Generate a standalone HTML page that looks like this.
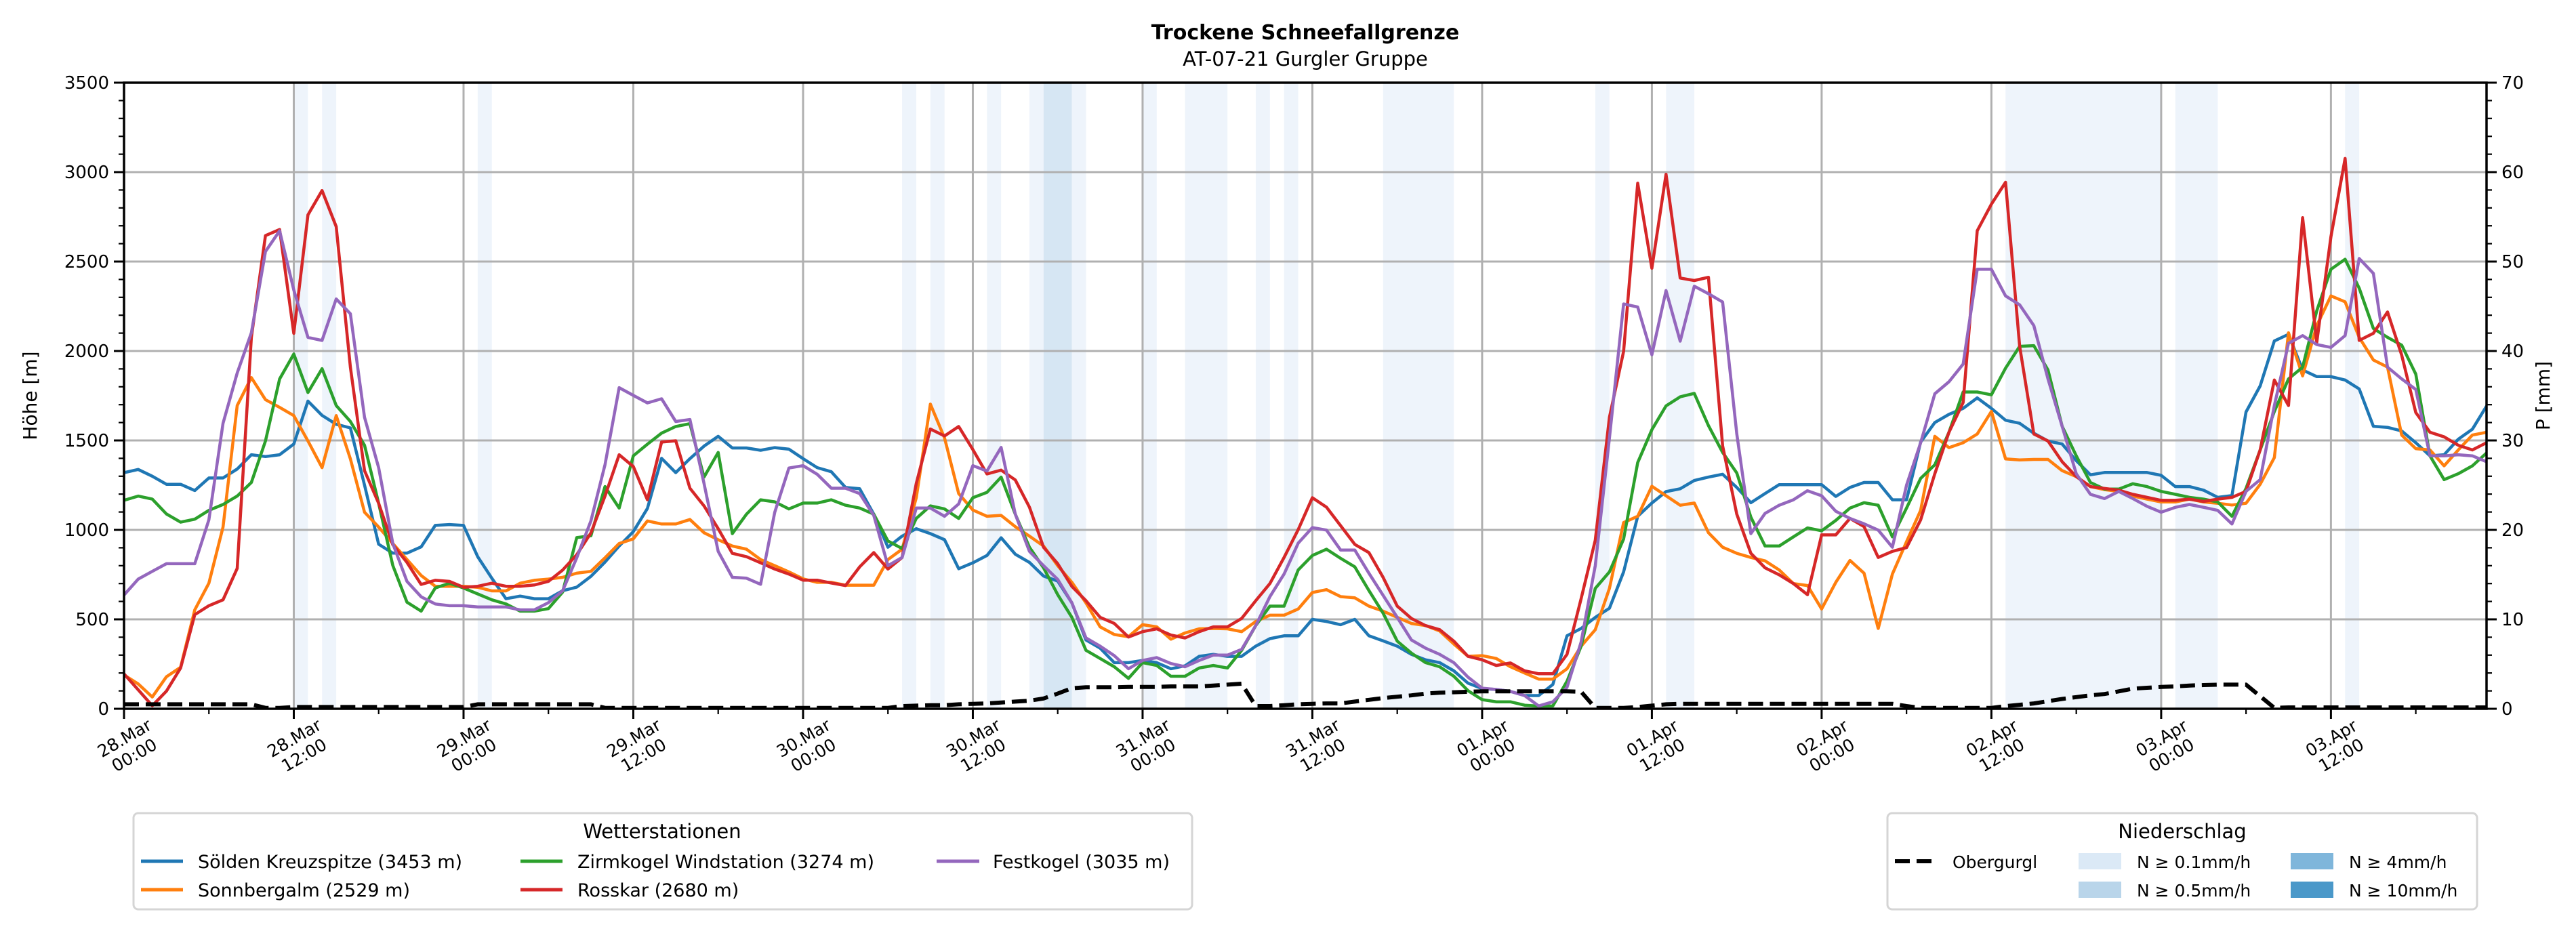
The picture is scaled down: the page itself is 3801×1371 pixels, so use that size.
<!DOCTYPE html>
<html><head><meta charset="utf-8"><title>Trockene Schneefallgrenze</title>
<style>
html,body{margin:0;padding:0;background:#fff;}
svg{display:block;font-family:"DejaVu Sans","Liberation Sans",sans-serif;}
</style></head>
<body>
<svg id="chart" xmlns="http://www.w3.org/2000/svg" width="3801" height="1371" viewBox="0 0 3801 1371">
<rect x="0" y="0" width="3801" height="1371" fill="#fff"/>
<g id="bands"></g>
<g id="grid"></g>
<g id="series"></g>
<g id="axes"></g>
<text x="1926" y="58" text-anchor="middle" font-size="30" font-weight="bold">Trockene Schneefallgrenze</text>
<text x="1926" y="97" text-anchor="middle" font-size="29">AT-07-21 Gurgler Gruppe</text>
<text transform="translate(54,584) rotate(-90)" text-anchor="middle" font-size="28">Höhe [m]</text>
<text transform="translate(3762,584) rotate(-90)" text-anchor="middle" font-size="28">P [mm]</text>

<g>
<rect x="197" y="1200" width="1562" height="142" rx="7" fill="#fff" stroke="#d5d5d5" stroke-width="3"/>
<text x="977" y="1237" text-anchor="middle" font-size="29">Wetterstationen</text>
<g><line x1="208" y1="1271" x2="270" y2="1271" stroke="#1f77b4" stroke-width="5"/><text x="292" y="1281" font-size="27">Sölden Kreuzspitze (3453 m)</text></g>
<g><line x1="208" y1="1313" x2="270" y2="1313" stroke="#ff7f0e" stroke-width="5"/><text x="292" y="1323" font-size="27">Sonnbergalm (2529 m)</text></g>
<g><line x1="768" y1="1271" x2="830" y2="1271" stroke="#2ca02c" stroke-width="5"/><text x="852" y="1281" font-size="27">Zirmkogel Windstation (3274 m)</text></g>
<g><line x1="768" y1="1313" x2="830" y2="1313" stroke="#d62728" stroke-width="5"/><text x="852" y="1323" font-size="27">Rosskar (2680 m)</text></g>
<g><line x1="1382" y1="1271" x2="1445" y2="1271" stroke="#9467bd" stroke-width="5"/><text x="1465" y="1281" font-size="27">Festkogel (3035 m)</text></g>
</g>

<g>
<rect x="2785" y="1200" width="870" height="142" rx="7" fill="#fff" stroke="#d5d5d5" stroke-width="3"/>
<text x="3220" y="1237" text-anchor="middle" font-size="29">Niederschlag</text>
<g><line x1="2796" y1="1271" x2="2856" y2="1271" stroke="#000" stroke-width="6" stroke-dasharray="22,10"/><text x="2881" y="1281" font-size="25">Obergurgl</text></g>
<g><rect x="3067" y="1259" width="63" height="24" fill="#dbe9f6"/><text x="3153" y="1281" font-size="25">N ≥ 0.1mm/h</text></g>
<g><rect x="3067" y="1301" width="63" height="24" fill="#b9d5ea"/><text x="3153" y="1323" font-size="25">N ≥ 0.5mm/h</text></g>
<g><rect x="3380" y="1259" width="63" height="24" fill="#7fb6db"/><text x="3466" y="1281" font-size="25">N ≥ 4mm/h</text></g>
<g><rect x="3380" y="1301" width="63" height="24" fill="#4a98c9"/><text x="3466" y="1323" font-size="25">N ≥ 10mm/h</text></g>
</g>
</svg>
<script>
const soelden = [1320,1338,1300,1255,1255,1220,1290,1290,1340,1420,1410,1420,1480,1720,1640,1590,1570,1250,920,870,870,905,1025,1030,1025,850,730,615,630,615,615,660,680,740,820,910,990,1120,1400,1320,
1398,1468,1523,1458,1458,1445,1460,1451,1398,1348,1325,1237,1230,1088,903,965,1007,979,945,783,816,857,956,864,818,742,714,592,385,339,258,258,270,258,224,240,293,304,293,293,350,392,408,
408,500,488,470,500,408,380,350,304,274,258,212,143,113,108,97,74,74,136,408,449,511,562,765,1076,1150,1214,1230,1276,1295,1311,1237,1152,1203,1253,1253,1253,1253,1187,1237,1265,1265,1168,1168,1491,1600,
1646,1679,1738,1679,1613,1596,1540,1497,1480,1387,1308,1321,1321,1321,1321,1305,1242,1242,1222,1182,1192,1659,1805,2056,2093,1894,1857,1857,1838,1788,1579,1573,1553,1487,1414,1420,1507,1563,1692];
const sonnbergalm = [189,139,66,179,232,553,702,1016,1695,1851,1728,1685,1639,1497,1348,1639,1397,1099,1016,924,834,745,685,685,685,679,659,659,702,718,725,735,758,768,844,924,950,1050,1033,1033,
1058,984,945,910,892,834,800,765,726,707,707,691,691,691,834,892,1180,1703,1514,1203,1111,1076,1081,1018,965,910,800,707,592,458,415,403,470,458,389,424,447,449,447,431,488,523,523,
558,650,666,627,620,574,546,511,477,465,435,362,293,297,281,235,200,166,166,224,350,442,673,1041,1076,1244,1191,1138,1150,984,903,869,846,827,776,700,689,558,707,829,758,449,753,
934,1109,1523,1460,1487,1536,1662,1397,1391,1394,1394,1331,1298,1242,1225,1215,1189,1172,1156,1156,1172,1156,1149,1139,1149,1255,1404,2102,1861,2142,2308,2275,2076,1950,1910,1530,1454,1447,1358,1447,1530,1546];
const zirmkogel = [1165,1189,1172,1089,1043,1060,1109,1142,1189,1265,1497,1844,1983,1768,1901,1695,1606,1473,1149,801,596,546,675,702,675,642,609,586,546,546,560,652,957,967,1242,1122,1414,
1479,1541,1578,1594,1295,1433,979,1088,1168,1157,1117,1150,1150,1168,1138,1122,1088,938,896,1064,1134,1117,1064,1180,1210,1295,1088,903,788,638,511,327,281,235,170,258,242,182,182,228,242,228,327,465,574,574,
776,857,892,841,793,661,535,378,311,258,235,182,101,51,39,39,20,15,16,154,350,673,765,949,1376,1560,1693,1744,1763,1583,1433,1318,1071,910,910,961,1011,995,1053,1122,1152,1138,961,
1122,1288,1364,1546,1771,1771,1755,1904,2026,2030,1894,1579,1414,1265,1228,1228,1258,1242,1215,1199,1182,1172,1156,1076,1232,1447,1662,1844,1910,2225,2457,2513,2351,2126,2076,2033,1871,1414,1281,1314,1358,1430];
const rosskar = [195,106,17,99,228,526,576,609,785,2076,2645,2679,2099,2761,2897,2695,1910,1331,1149,917,818,695,718,712,679,685,702,685,685,692,712,775,861,983,1189,1420,1354,
1168,1491,1498,1233,1134,1007,869,850,816,781,753,719,719,703,689,793,873,781,846,1260,1564,1525,1578,1449,1313,1334,1279,1127,903,811,684,604,511,477,401,431,447,412,396,431,458,458,505,604,700,846,
1002,1180,1127,1023,919,873,735,574,505,465,442,378,293,274,242,256,212,196,196,304,615,942,1629,1998,2938,2463,2988,2408,2394,2412,1470,1088,869,788,749,700,638,972,972,1064,1018,846,880,
901,1056,1314,1546,1712,2672,2821,2943,2026,1536,1497,1381,1298,1242,1232,1222,1199,1182,1165,1165,1172,1159,1172,1182,1215,1447,1838,1695,2745,2049,2639,3076,2059,2099,2218,1977,1656,1546,1520,1473,1447,1487];
const festkogel = [636,725,768,811,811,811,1056,1596,1877,2102,2556,2672,2341,2076,2059,2291,2208,1629,1348,924,712,626,586,576,576,569,569,569,553,553,593,659,844,1050,1364,1795,1752,
1710,1733,1606,1617,1260,880,735,730,696,1099,1346,1359,1311,1233,1233,1203,1081,800,846,1122,1122,1076,1145,1359,1329,1461,1088,880,800,723,592,396,350,297,224,270,286,253,235,270,300,300,332,465,627,753,
926,1013,999,887,887,758,634,511,385,339,304,258,177,115,108,97,74,16,39,120,373,800,1514,2263,2246,1979,2338,2055,2362,2320,2274,1537,979,1092,1138,1168,1219,1191,1104,1064,1034,999,903,
1250,1487,1761,1828,1927,2457,2457,2308,2258,2142,1844,1579,1314,1199,1175,1215,1175,1132,1099,1126,1142,1126,1109,1033,1215,1281,1695,2043,2086,2036,2020,2086,2517,2434,1910,1844,1785,1414,1414,1420,1414,1381];
const obergurgl = [0.5,0.5,0.5,0.5,0.5,0.5,0.5,0.5,0.5,0.5,0.1,0.1,
0.2,0.2,0.2,0.2,0.2,0.2,0.2,0.2,0.2,0.2,0.2,0.2,0.2,
0.5,0.5,0.5,0.5,0.5,0.5,0.5,0.5,0.5,
0.1,0.1,0.1,0.1,0.1,0.1,0.1,0.1,0.1,0.1,0.1,0.1,0.1,0.1,0.1,0.1,0.1,0.1,0.1,0.1,0.1,
0.3,0.35,0.4,0.4,0.5,0.55,0.6,0.7,0.8,0.9,1.15,1.7,2.3,2.4,2.4,2.4,2.45,2.45,2.45,2.5,2.5,2.5,2.6,2.7,2.8,0.3,0.3,0.4,0.5,0.55,0.6,0.6,0.8,1.0,1.2,1.35,1.5,1.7,1.8,1.85,1.9,1.95,1.95,1.95,1.95,1.95,1.95,1.95,1.9,0.1,0.1,0.1,0.2,0.35,0.5,
0.55,0.55,0.55,0.55,0.55,0.55,0.55,0.55,0.55,0.55,0.55,0.55,0.55,0.55,0.55,0.55,
0.3,0.1,0.1,0.1,0.1,0.1,0.1,
0.3,0.45,0.6,0.85,1.1,1.3,1.5,1.65,1.95,2.25,2.35,2.45,2.5,2.6,2.65,2.7,2.7,2.7,1.4,0.1,
0.15,0.15,0.15,0.15,0.15,0.15,0.15,0.15,0.15,0.15,0.15,0.15,0.15,0.15,0.15];
const bandStart = [12,14,25,55,57,61,64,65,67,72,75,80,82,89,104,109,133,145,157];
const bandEnd   = [13,15,26,56,58,62,65,67,68,73,78,81,83,94,105,111,144,148,158];
const bandLevel = [1,1,1,1,1,1,1,2,1,1,1,1,1,1,1,1,1,1,1];
const yTicks = [0,500,1000,1500,2000,2500,3000,3500];
const y2Ticks = [0,10,20,30,40,50,60,70];
const xTickHours = [0,12,24,36,48,60,72,84,96,108,120,132,144,156];
const xTickDay = ["28.Mar","28.Mar","29.Mar","29.Mar","30.Mar","30.Mar","31.Mar","31.Mar","01.Apr","01.Apr","02.Apr","02.Apr","03.Apr","03.Apr"];
const xTickTime = ["00:00","12:00","00:00","12:00","00:00","12:00","00:00","12:00","00:00","12:00","00:00","12:00","00:00","12:00"];

const NS = "http://www.w3.org/2000/svg";
const L = 183, R = 3669, T = 122, B = 1046, HMAX = 167, VMAX = 3500, PMAX = 70;
function X(h){ return L + h*(R-L)/HMAX; }
function Y(v){ return B - v*(B-T)/VMAX; }
function YP(p){ return B - p*(B-T)/PMAX; }
function mk(tag, attrs, parent){ const e=document.createElementNS(NS,tag); for(const k in attrs) e.setAttribute(k,attrs[k]); parent.appendChild(e); return e; }

const gB = document.getElementById('bands');
const bandColors = {1:"#eef4fb",2:"#d6e6f3",3:"#b9d5ea",4:"#7fb6db"};
for(let i=0;i<bandStart.length;i++){
  const r = mk('rect',{x:X(bandStart[i]),y:T,width:X(bandEnd[i])-X(bandStart[i]),height:B-T,fill:bandColors[bandLevel[i]]},gB);
  
  
}
const gG = document.getElementById('grid');
xTickHours.forEach(h=>{ const l=mk('line',{x1:X(h),x2:X(h),y1:T,y2:B,stroke:"#b0b0b0","stroke-width":3},gG);
  
   });
yTicks.forEach(v=>{ const l=mk('line',{x1:L,x2:R,y1:Y(v),y2:Y(v),stroke:"#b0b0b0","stroke-width":3},gG);
  
   });

const gS = document.getElementById('series');
const seriesList = [[soelden,"#1f77b4","line-soelden"],[sonnbergalm,"#ff7f0e","line-sonnbergalm"],[zirmkogel,"#2ca02c","line-zirmkogel"],[rosskar,"#d62728","line-rosskar"],[festkogel,"#9467bd","line-festkogel"]];
const clip = mk('clipPath',{id:"pc"},gS); mk('rect',{x:L,y:T,width:R-L,height:B-T},clip);
seriesList.forEach(s=>{
  const pts = s[0].map((v,i)=>X(i).toFixed(1)+","+Y(v).toFixed(1)).join(" ");
  const p = mk('polyline',{points:pts,fill:"none",stroke:s[1],"stroke-width":4.5,"stroke-linejoin":"round","clip-path":"url(#pc)"},gS);
  
  
});
const opts = obergurgl.map((v,i)=>X(i).toFixed(1)+","+YP(v).toFixed(1)).join(" ");
const op = mk('polyline',{points:opts,fill:"none",stroke:"#000","stroke-width":6,"stroke-dasharray":"22,10","clip-path":"url(#pc)"},gS);



const gA = document.getElementById('axes');
const frame = mk('rect',{x:L,y:T,width:R-L,height:B-T,fill:"none",stroke:"#000","stroke-width":3.5},gA);


for(let v=0; v<=VMAX; v+=100){ const maj=v%500===0; mk('line',{x1:L,x2:L-(maj?15:8),y1:Y(v),y2:Y(v),stroke:"#000","stroke-width":maj?3:2.2},gA); }
yTicks.forEach(v=>{ const t=mk('text',{x:L-22,y:Y(v)+9,"text-anchor":"end","font-size":26},gA); t.textContent=v;
  
   });
for(let p=0; p<=PMAX; p+=2){ const maj=p%10===0; mk('line',{x1:R,x2:R+(maj?15:8),y1:YP(p),y2:YP(p),stroke:"#000","stroke-width":maj?3:2.2},gA); }
y2Ticks.forEach(p=>{ const t=mk('text',{x:R+22,y:YP(p)+9,"text-anchor":"start","font-size":26},gA); t.textContent=p;
  
   });
for(let h=0; h<=HMAX; h+=6){ const maj=h%12===0; mk('line',{x1:X(h),x2:X(h),y1:B,y2:B+(maj?15:8),stroke:"#000","stroke-width":maj?3:2.2},gA); }
xTickHours.forEach((h,i)=>{
  const g = mk('g',{transform:"translate("+(X(h)+8)+",1102) rotate(-30)"},gA);
  
  
  const t1 = mk('text',{x:0,y:-6,"text-anchor":"middle","font-size":25},g); t1.textContent = xTickDay[i];
  const t2 = mk('text',{x:0,y:23,"text-anchor":"middle","font-size":25},g); t2.textContent = xTickTime[i];
});
</script>
</body></html>
